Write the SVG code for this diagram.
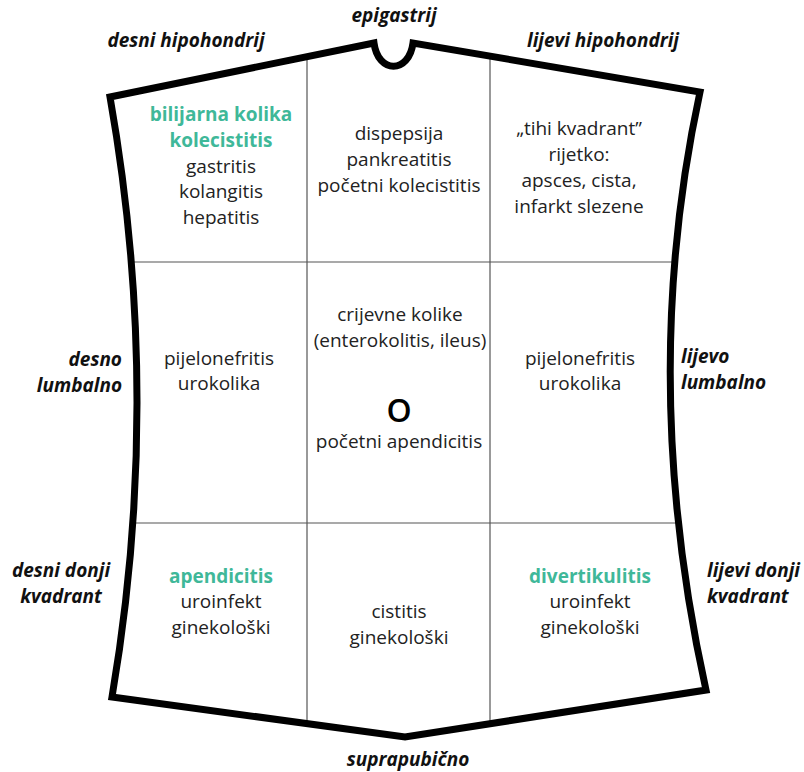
<svg xmlns="http://www.w3.org/2000/svg" width="804" height="772" viewBox="0 0 804 772">
<style>
.lbl{font-family:"Open Sans","Noto Sans",sans-serif;font-size:19px;font-weight:700;font-style:italic;fill:#111}
.t{font-family:"Open Sans","Noto Sans",sans-serif;font-size:19px;fill:#222;text-anchor:middle}
.g{fill:#3fb899;font-weight:700}
.div{stroke:#555;stroke-width:1.2;fill:none}
</style>
<rect width="804" height="772" fill="#fff"/>
<g id="dividers">
<line class="div" x1="128" y1="262" x2="676" y2="262"/>
<line class="div" x1="132" y1="523" x2="680" y2="523"/>
<line class="div" x1="307" y1="57" x2="307" y2="724"/>
<line class="div" x1="490" y1="56" x2="490" y2="725"/>
</g>
<g id="outline">
<path d="M110,97 L374,43 C378,74 409,74 413,43 L700,92 C655,300 664,500 706,690 L405,737 L112,697 Q163,397 110,97 Z" fill="none" stroke="#000" stroke-width="7" stroke-linejoin="miter"/>
</g>
<g id="labels">
<text class="lbl" x="394" y="22" text-anchor="middle">epigastrij</text>
<text class="lbl" x="186" y="47" text-anchor="middle">desni hipohondrij</text>
<text class="lbl" x="603" y="47" text-anchor="middle">lijevi hipohondrij</text>
<text class="lbl" x="122" y="366" text-anchor="end">desno</text>
<text class="lbl" x="122" y="392" text-anchor="end">lumbalno</text>
<text class="lbl" x="681" y="363" text-anchor="start">lijevo</text>
<text class="lbl" x="681" y="389" text-anchor="start">lumbalno</text>
<text class="lbl" x="61" y="577" text-anchor="middle">desni donji</text>
<text class="lbl" x="61" y="603" text-anchor="middle">kvadrant</text>
<text class="lbl" x="707" y="577" text-anchor="start">lijevi donji</text>
<text class="lbl" x="707" y="603" text-anchor="start">kvadrant</text>
<text class="lbl" x="408" y="766" text-anchor="middle">suprapubično</text>
</g>
<g id="cell-ruq">
<text class="t g" x="221" y="121">bilijarna kolika</text>
<text class="t g" x="221" y="147">kolecistitis</text>
<text class="t" x="221" y="173">gastritis</text>
<text class="t" x="221" y="198">kolangitis</text>
<text class="t" x="221" y="224">hepatitis</text>
</g>
<g id="cell-epi">
<text class="t" x="399" y="140">dispepsija</text>
<text class="t" x="399" y="166">pankreatitis</text>
<text class="t" x="399" y="192">početni kolecistitis</text>
</g>
<g id="cell-luq">
<text class="t" x="579" y="135">„tihi kvadrant”</text>
<text class="t" x="579" y="161">rijetko:</text>
<text class="t" x="579" y="187">apsces, cista,</text>
<text class="t" x="579" y="213">infarkt slezene</text>
</g>
<g id="cell-rl">
<text class="t" x="219" y="365">pijelonefritis</text>
<text class="t" x="219" y="390">urokolika</text>
</g>
<g id="cell-umb">
<text class="t" x="400" y="321">crijevne kolike</text>
<text class="t" x="400" y="347">(enterokolitis, ileus)</text>
<text class="t" x="399" y="422" style="font-size:32px;font-weight:600;fill:#000">O</text>
<text class="t" x="399" y="448">početni apendicitis</text>
</g>
<g id="cell-ll">
<text class="t" x="580" y="365">pijelonefritis</text>
<text class="t" x="580" y="390">urokolika</text>
</g>
<g id="cell-rlq">
<text class="t g" x="221" y="583">apendicitis</text>
<text class="t" x="221" y="608">uroinfekt</text>
<text class="t" x="221" y="634">ginekološki</text>
</g>
<g id="cell-sp">
<text class="t" x="399" y="618">cistitis</text>
<text class="t" x="399" y="644">ginekološki</text>
</g>
<g id="cell-llq">
<text class="t g" x="590" y="583">divertikulitis</text>
<text class="t" x="590" y="608">uroinfekt</text>
<text class="t" x="590" y="634">ginekološki</text>
</g>
</svg>
